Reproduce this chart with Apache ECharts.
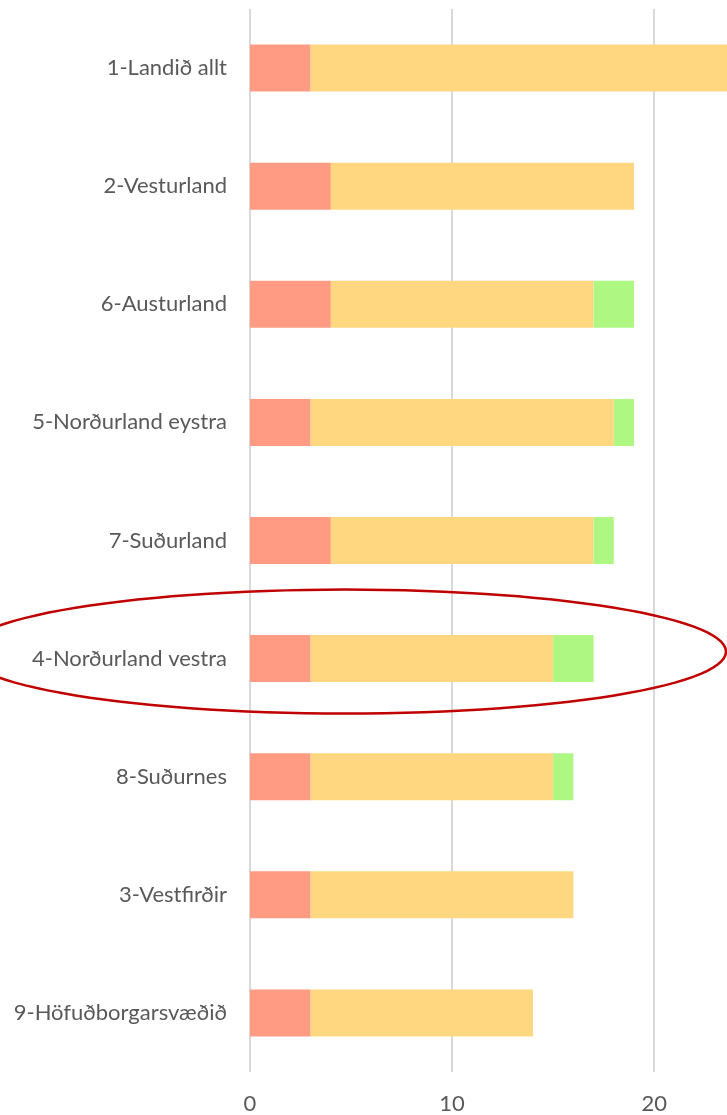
<!DOCTYPE html>
<html>
<head>
<meta charset="utf-8">
<script src="https://cdn.jsdelivr.net/npm/echarts@6/dist/echarts.min.js"></script>
<style>
  html, body { margin: 0; padding: 0; background: #fff; }
  #chart { width: 727px; height: 1115px; }
</style>
</head>
<body>
<div id="chart"></div>
<script>
var categories = ['1-Landið allt', '2-Vesturland', '6-Austurland', '5-Norðurland eystra',
  '7-Suðurland', '4-Norðurland vestra', '8-Suðurnes', '3-Vestfirðir', '9-Höfuðborgarsvæðið'];
var redVals = [3, 4, 4, 3, 4, 3, 3, 3, 3];
var yellowVals = [22, 15, 13, 15, 13, 12, 12, 13, 11];
var greenVals = [0, 0, 2, 1, 1, 2, 1, 0, 0];
var xTicks = [0, 10, 20];
var highlighted = '4-Norðurland vestra';

var myChart = echarts.init(document.getElementById('chart'));
var font = 'Lato, "Open Sans", sans-serif';

function bar(name, data, color) {
  return {
    name: name,
    type: 'bar',
    stack: 'total',
    barWidth: 47,
    itemStyle: { color: color },
    data: data
  };
}

myChart.setOption({
  animation: false,
  grid: { left: 250, right: 0, top: 9, bottom: 42 },
  xAxis: {
    type: 'value',
    min: 0,
    max: 23.6,
    interval: 10,
    axisLine: { show: false },
    axisTick: { show: false },
    splitLine: { show: true, showMaxLine: false, lineStyle: { color: '#d9d9d9', width: 2 } },
    axisLabel: {
      showMaxLabel: false,
      margin: 21,
      color: '#595959',
      fontSize: 22,
      fontFamily: font,
      formatter: function (v) { return xTicks.indexOf(v) >= 0 ? String(v) : ''; }
    }
  },
  yAxis: {
    type: 'category',
    inverse: true,
    data: categories,
    axisLine: { show: false },
    axisTick: { show: false },
    axisLabel: { margin: 23, color: '#595959', fontSize: 22, fontFamily: font }
  },
  series: [
    bar('red', redVals, '#ff9b83'),
    bar('yellow', yellowVals, '#ffd780'),
    bar('green', greenVals, '#aef783')
  ]
});

// red ellipse around the highlighted category
var cy = myChart.convertToPixel({ yAxisIndex: 0 }, highlighted);
var cx = 345, rx = 381, ry = 62;
var pts = [];
for (var i = 0; i <= 120; i++) {
  var a = i / 120 * Math.PI * 2;
  pts.push([cx + rx * Math.cos(a), cy - 7 + ry * Math.sin(a)]);
}
myChart.setOption({
  graphic: [{
    type: 'polygon',
    z: 100,
    shape: { points: pts },
    style: { fill: 'none', stroke: '#c00000', lineWidth: 2.5 }
  }]
});
</script>
</body>
</html>
